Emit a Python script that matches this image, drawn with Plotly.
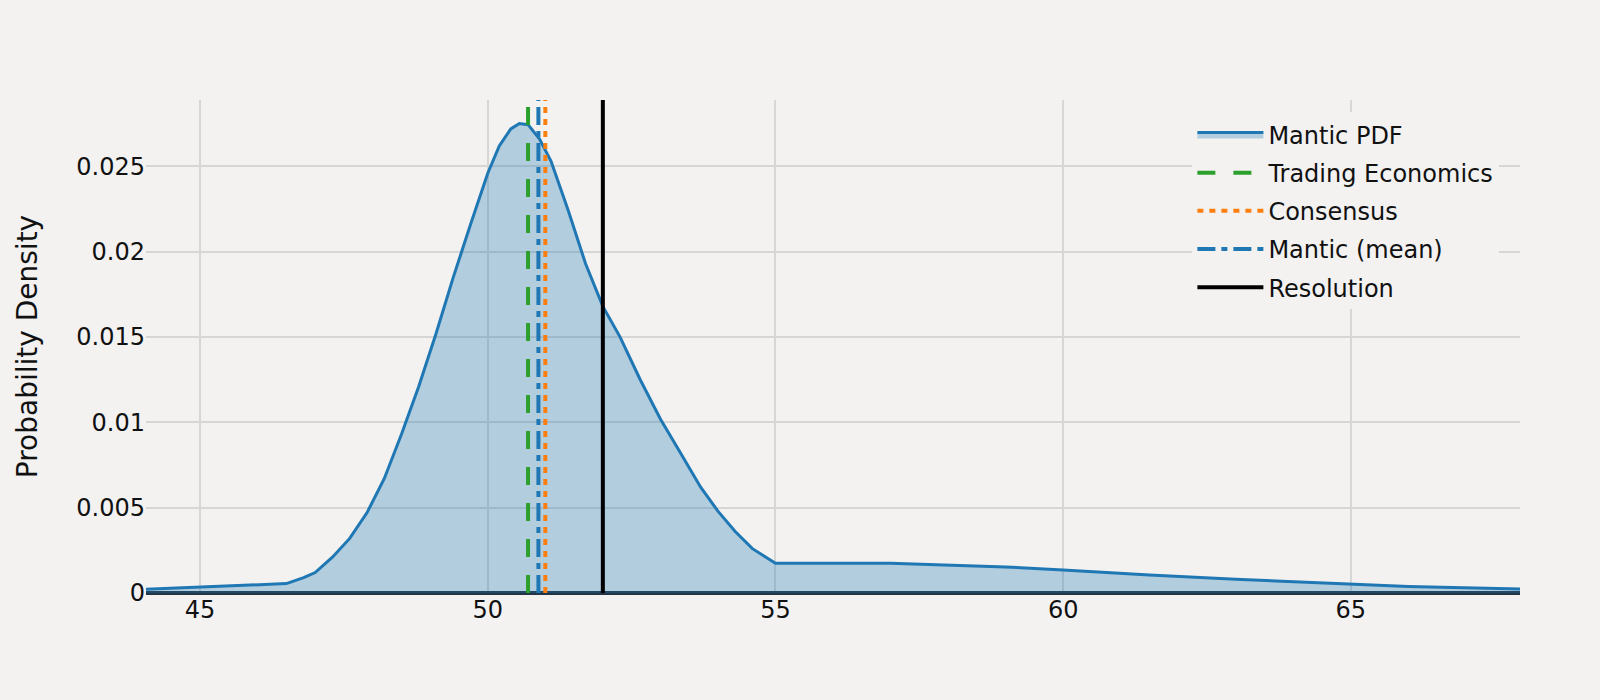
import plotly.graph_objects as go

# pdf curve
pdf_x = [44.06, 46.5, 46.8, 47.0, 47.3, 47.6, 47.9, 48.2, 48.5, 48.8, 49.1, 49.4, 49.7,
         50.0, 50.2, 50.4, 50.55, 50.7, 50.9, 51.1, 51.4, 51.7, 52.0, 52.3, 52.65, 53.0,
         53.35, 53.7, 54.0, 54.3, 54.6, 55.0, 57.0, 59.0, 60.0, 61.5, 63.0, 65.0, 66.0, 67.94]
pdf_y = [0.00022, 0.00055, 0.0009, 0.0012, 0.0021, 0.0032, 0.0047, 0.0067, 0.0093, 0.0121,
         0.0152, 0.0185, 0.0216, 0.0246, 0.0262, 0.0272, 0.02752, 0.02745, 0.0266, 0.0253,
         0.0224, 0.0193, 0.0168, 0.0150, 0.0125, 0.0102, 0.0082, 0.0062, 0.0048, 0.0036,
         0.0026, 0.00174, 0.00174, 0.00153, 0.00135, 0.00105, 0.0008, 0.00053, 0.00038, 0.00023]

ref_names = ["Trading Economics", "Consensus", "Mantic (mean)", "Resolution"]
ref_values = [50.7, 51.0, 50.88, 52.0]
ref_colors = ["#2ca02c", "#ff7f0e", "#1f77b4", "black"]
ref_dashes = ["18px,18px", "6px,6px", "18px,6px,6px,6px", "solid"]

BG = "#f3f2f1"
FONT = "DejaVu Sans"
ymax = max(pdf_y) * 1.05

fig = go.Figure()
fig.add_trace(go.Scatter(x=pdf_x, y=pdf_y, mode="lines", name="Mantic PDF",
                         fill="tozeroy", fillcolor="rgba(31,119,180,0.3)",
                         line=dict(color="#1f77b4", width=3), legendgroup="a"))
for i, (name, v, c, d) in enumerate(zip(ref_names, ref_values, ref_colors, ref_dashes)):
    fig.add_trace(go.Scatter(x=[v, v], y=[0, ymax], mode="lines", name=name,
                             line=dict(color=c, width=4, dash=d), legendgroup=str(i)))

fig.update_layout(
    width=1600, height=700,
    paper_bgcolor=BG, plot_bgcolor=BG,
    font=dict(family=FONT, size=24, color="#111"),
    margin=dict(l=146, r=80, t=100, b=107),
    showlegend=True,
    legend=dict(x=0.985, y=0.975, xanchor="right", yanchor="top", bgcolor=BG,
                font=dict(size=24), itemwidth=66, tracegroupgap=4),
)
fig.update_xaxes(range=[pdf_x[0], pdf_x[-1]], showgrid=True, gridcolor="#d6d6d6", gridwidth=2,
                 zeroline=False, tickvals=[45, 50, 55, 60, 65], tickfont=dict(size=24))
fig.update_yaxes(range=[0, ymax], showgrid=True, gridcolor="#d6d6d6", gridwidth=2,
                 zeroline=True, zerolinecolor="#243447", zerolinewidth=4,
                 tickvals=[0, 0.005, 0.01, 0.015, 0.02, 0.025],
                 ticktext=["0", "0.005", "0.01", "0.015", "0.02", "0.025"],
                 tickfont=dict(size=24),
                 title=dict(text="Probability Density", font=dict(size=28), standoff=30))

fig.write_html("out.html", config={"displayModeBar": False},
               post_script="document.body.style.margin='0';")
